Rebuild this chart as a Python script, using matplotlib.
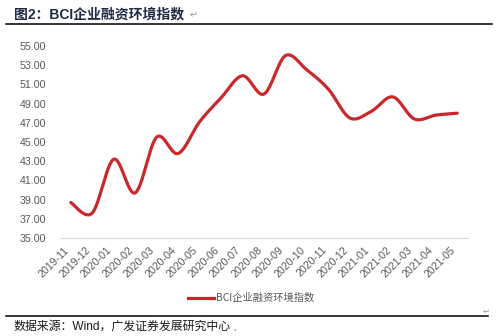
import numpy as np
import matplotlib
matplotlib.use("Agg")
import matplotlib.pyplot as plt
from matplotlib.lines import Line2D

plt.rcParams['font.family'] = ['Liberation Sans', 'Noto Sans CJK SC', 'DejaVu Sans']

months = ["2019-11", "2019-12", "2020-01", "2020-02", "2020-03", "2020-04",
          "2020-05", "2020-06", "2020-07", "2020-08", "2020-09", "2020-10",
          "2020-11", "2020-12", "2021-01", "2021-02", "2021-03", "2021-04",
          "2021-05"]
bci_financing = [38.7, 37.6, 43.2, 39.7, 45.5, 43.8, 47.1, 49.6, 51.9, 50.0,
                 54.0, 52.5, 50.5, 47.5, 48.2, 49.7, 47.4, 47.8, 48.0]
y_ticks = [35, 37, 39, 41, 43, 45, 47, 49, 51, 53, 55]
series_name = "BCI企业融资环境指数"

RED = "#C9282D"
GRAY = "#595959"


def smooth_curve(x, y, steps=30):
    """Cubic Bezier smoothing through every point (spreadsheet-style)."""
    x = np.asarray(x, float)
    y = np.asarray(y, float)
    n = len(x)
    xs, ys = [], []
    for i in range(n - 1):
        p0 = np.array([x[max(i - 1, 0)], y[max(i - 1, 0)]])
        p1 = np.array([x[i], y[i]])
        p2 = np.array([x[i + 1], y[i + 1]])
        p3 = np.array([x[min(i + 2, n - 1)], y[min(i + 2, n - 1)]])
        c1 = p1 + (p2 - p0) / 6.0
        c2 = p2 - (p3 - p1) / 6.0
        t = np.linspace(0, 1, steps, endpoint=(i == n - 2))[:, None]
        pts = ((1 - t) ** 3) * p1 + 3 * ((1 - t) ** 2) * t * c1 \
            + 3 * (1 - t) * (t ** 2) * c2 + (t ** 3) * p2
        xs.append(pts[:, 0])
        ys.append(pts[:, 1])
    return np.concatenate(xs), np.concatenate(ys)


fig = plt.figure(figsize=(4.96, 3.36), dpi=100)
ax = fig.add_axes([60 / 496, 1 - 238 / 336, 408 / 496, 192 / 336])

idx = np.arange(len(months))
sx, sy = smooth_curve(idx, bci_financing)
ax.plot(sx, sy, color=RED, lw=2.3, solid_capstyle='round')

ax.set_xlim(-0.5, len(months) - 0.5)
ax.set_ylim(35, 55)
ax.set_yticks(y_ticks)
ax.set_yticklabels([f"{v:.2f}" for v in y_ticks])
ax.set_xticks(idx)
ax.set_xticklabels(months, rotation=45, ha='right', va='top')

for s in ['top', 'right', 'left']:
    ax.spines[s].set_visible(False)
ax.spines['bottom'].set_color('#D9D9D9')
ax.spines['bottom'].set_linewidth(0.8)
ax.tick_params(axis='both', length=0, labelsize=7.7, labelcolor=GRAY)
ax.tick_params(axis='y', pad=10)
ax.tick_params(axis='x', pad=5)

# legend
handle = Line2D([], [], color=RED, lw=2.3)
fig.legend([handle], [series_name], loc='center', bbox_to_anchor=(251 / 496, 1 - 298 / 336),
           frameon=False, handlelength=2.6, handletextpad=0.15,
           prop={'family': ['Noto Sans CJK SC'], 'size': 7.4}, labelcolor=GRAY)

# header and footer
fig.text(14 / 496, 1 - 14 / 336, "图2：BCI企业融资环境指数", fontsize=10, fontweight='bold',
         color='#1F2A44', ha='left', va='center', family=['Liberation Sans', 'Noto Sans CJK SC'])
fig.text(190 / 496, 1 - 15 / 336, "↵", fontsize=7, color='#9A9A9A', ha='left', va='center',
         family=['DejaVu Sans'])
fig.add_artist(Line2D([6 / 496, 492 / 496], [1 - 24 / 336, 1 - 24 / 336], color='black', lw=1.1))
fig.add_artist(Line2D([6 / 496, 488 / 496], [1 - 316 / 336, 1 - 316 / 336], color='black', lw=1.1))
fig.text(483 / 496, 1 - 311 / 336, "↵", fontsize=6, color='#9A9A9A', ha='left', va='center',
         family=['DejaVu Sans'])
fig.text(13 / 496, 1 - 327 / 336, "数据来源：Wind，广发证券发展研究中心", fontsize=8.6,
         color='#1A1A1A', ha='left', va='center', family=['Liberation Sans', 'Noto Sans CJK SC'])
fig.text(234 / 496, 1 - 329 / 336, "。", fontsize=5, color='#9A9A9A', ha='left', va='center',
         family=['Noto Sans CJK SC'])

fig.savefig("out.png", dpi=100, facecolor='white')
